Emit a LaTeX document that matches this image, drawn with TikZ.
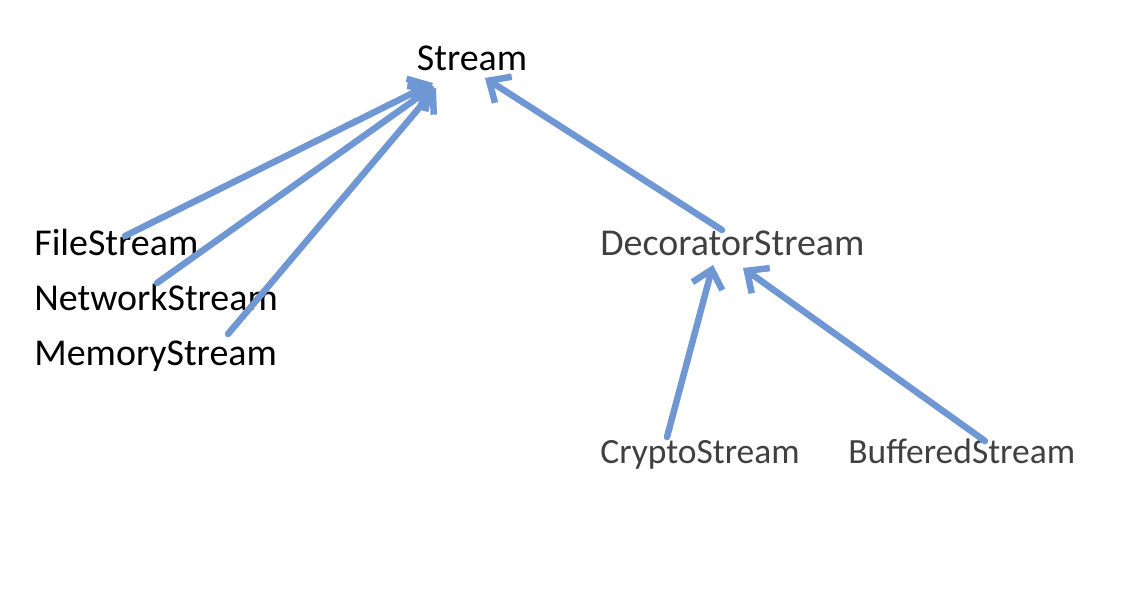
\documentclass[tikz,border=0pt]{standalone}
\usepackage{fontspec}
\setmainfont{Carlito}
\usetikzlibrary{arrows.meta}
\definecolor{linkblue}{RGB}{111,151,212}
\definecolor{textgray}{RGB}{64,64,64}

\begin{document}
\begin{tikzpicture}[x=0.02cm,y=-0.02cm,>={Straight Barb[length=0.34cm,width=0.62cm]},
  cls/.style={inner sep=0pt,anchor=base west,font=\fontsize{21.6}{26}\selectfont},
  sub/.style={cls,text=textgray},
  leaf/.style={sub,font=\fontsize{20.2}{24}\selectfont},
  inh/.style={->,color=linkblue,line width=3.7pt,line cap=round}]
  \useasboundingbox (0,0) rectangle (1146,609);
  \node[cls,anchor=base] (stream) at (472,70) {Stream};
  \node[cls] (file) at (34,255) {FileStream};
  \node[cls] (net) at (34,310) {NetworkStream};
  \node[cls] (mem) at (34,365) {MemoryStream};
  \node[sub] (deco) at (600,255) {DecoratorStream};
  \node[leaf] (crypto) at (600,463) {CryptoStream};
  \node[leaf] (buff) at (848,463) {BufferedStream};
  \path[inh]
  ([shift={(91,-19)}]file.base west) edge ([shift={(-39,13)}]stream.base)
  ([shift={(123,-27)}]net.base west) edge ([shift={(-38,16)}]stream.base)
  ([shift={(194,-31)}]mem.base west) edge ([shift={(-36,18)}]stream.base)
  ([shift={(122,-25)}]deco.base west) edge ([shift={(13,8)}]stream.base)
  ([shift={(67,-26)}]crypto.base west) edge ([shift={(113,10)}]deco.base west)
  ([shift={(137,-22)}]buff.base west) edge ([shift={(143,13)}]deco.base west);
\end{tikzpicture}
\end{document}
